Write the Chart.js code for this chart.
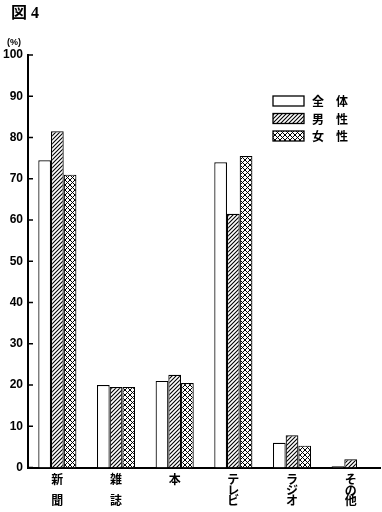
<!DOCTYPE html>
<html><head><meta charset="utf-8">
<script src="https://cdn.jsdelivr.net/npm/chart.js@4"></script>
<style>html,body{margin:0;padding:0;background:#fff;}#wrap{position:relative;width:382px;height:512px;}</style>
</head><body><div id="wrap"><canvas id="c" width="382" height="512"></canvas></div>
<script>
const categories = ['新聞', '雑誌', '本', 'テレビ', 'ラジオ', 'その他'];
const tickLabels = [['新', '', '聞'], ['雑', '', '誌'], ['本'], ['テ', 'レ', 'ビ'], ['ラ', 'ジ', 'オ'], ['そ', 'の', '他']];
const seriesNames = ['全体', '男性', '女性'];
const totalValues = [74.5, 20, 21, 74, 6, 0.3];
const maleValues = [81.5, 19.5, 22.5, 61.5, 7.8, 2];
const femaleValues = [71, 19.5, 20.5, 75.5, 5.3, 0];
const yMin = 0, yMax = 100, yStep = 10;
const chartTitle = '図 4';
const yUnit = '(%)';

const SANS = "'Liberation Sans','Noto Sans CJK JP',sans-serif";
const CJK = "'Noto Sans CJK JP','Liberation Sans',sans-serif";

function hatchPattern() {
  const s = 4, c = document.createElement('canvas'); c.width = s; c.height = s;
  const g = c.getContext('2d');
  g.fillStyle = '#fff'; g.fillRect(0, 0, s, s);
  g.strokeStyle = '#000'; g.lineWidth = 1.1;
  g.beginPath();
  g.moveTo(-1, s + 1); g.lineTo(s + 1, -1);
  g.moveTo(-1, 1); g.lineTo(1, -1);
  g.moveTo(s - 1, s + 1); g.lineTo(s + 1, s - 1);
  g.stroke();
  return g.createPattern(c, 'repeat');
}
function crossPattern() {
  const s = 5, c = document.createElement('canvas'); c.width = s; c.height = s;
  const g = c.getContext('2d');
  g.fillStyle = '#fff'; g.fillRect(0, 0, s, s);
  g.strokeStyle = '#000'; g.lineWidth = 1;
  g.beginPath();
  g.moveTo(-1, -1); g.lineTo(s + 1, s + 1);
  g.moveTo(-1, s + 1); g.lineTo(s + 1, -1);
  g.stroke();
  return g.createPattern(c, 'repeat');
}

const fills = ['#ffffff', hatchPattern(), crossPattern()];
const values = [totalValues, maleValues, femaleValues];

const extras = {
  id: 'extras',
  afterDraw(chart) {
    const ctx = chart.ctx, ys = chart.scales.y, ca = chart.chartArea;
    ctx.save();
    ctx.strokeStyle = '#000'; ctx.lineWidth = 1.5;
    ys.ticks.forEach(t => {
      const y = ys.getPixelForValue(t.value);
      ctx.beginPath(); ctx.moveTo(ca.left, y); ctx.lineTo(ca.left + 5, y); ctx.stroke();
    });
    ctx.fillStyle = '#000'; ctx.textBaseline = 'middle'; ctx.textAlign = 'left';
    ctx.font = "bold 16px 'Liberation Serif','Noto Sans CJK JP',serif";
    ctx.fillText(chartTitle, 11, 14);
    ctx.font = "bold 9px " + SANS; ctx.textAlign = 'center';
    ctx.fillText(yUnit, 14, 43);
    const bx = 273, by = 96, bw = 31, bh = 10, gap = 17.5;
    chart.data.datasets.forEach((ds, i) => {
      const y = by + i * gap;
      ctx.fillStyle = ds.backgroundColor; ctx.fillRect(bx, y, bw, bh);
      ctx.strokeStyle = '#000'; ctx.lineWidth = 1.3; ctx.strokeRect(bx, y, bw, bh);
      ctx.fillStyle = '#000'; ctx.font = "bold 12px " + CJK; ctx.textAlign = 'left';
      const chars = Array.from(ds.label);
      ctx.fillText(chars[0], 312, y + bh / 2 + 0.5);
      ctx.fillText(chars[1], 336, y + bh / 2 + 0.5);
    });
    ctx.restore();
  }
};

new Chart(document.getElementById('c'), {
  type: 'bar',
  data: {
    labels: categories,
    datasets: seriesNames.map((n, i) => ({
      label: n, data: values[i], backgroundColor: fills[i],
      borderColor: '#000', borderWidth: 1.2,
      categoryPercentage: 0.65, barPercentage: 1
    }))
  },
  options: {
    responsive: false, animation: false,
    layout: { padding: { top: 55, left: -2, right: 2, bottom: -1 } },
    plugins: { legend: { display: false }, title: { display: false }, tooltip: { enabled: false } },
    scales: {
      x: {
        grid: { display: false, drawTicks: false },
        border: { display: true, color: '#000', width: 2 },
        ticks: {
          color: '#000', padding: 7, maxRotation: 0, autoSkip: false,
          callback: (v, i) => tickLabels[i],
          font: { family: CJK, size: 12, weight: 'bold', lineHeight: '10.5px' }
        }
      },
      y: {
        min: yMin, max: yMax,
        grid: { display: false, drawTicks: false },
        border: { display: true, color: '#000', width: 2 },
        ticks: {
          stepSize: yStep, color: '#000', padding: 5,
          font: { family: SANS, size: 12, weight: 'bold' }
        }
      }
    }
  },
  plugins: [extras]
});
</script>
</body></html>
